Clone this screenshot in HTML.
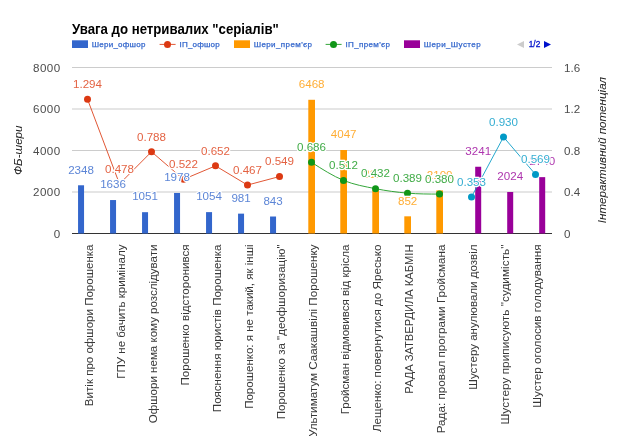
<!DOCTYPE html>
<html lang="uk"><head><meta charset="utf-8"><title>Увага до нетривалих "серіалів"</title>
<style>html,body{margin:0;padding:0;background:#fff}body{width:625px;height:436px;overflow:hidden}</style></head>
<body>
<svg width="625" height="436" viewBox="0 0 625 436" style="display:block;font-family:'Liberation Sans', Arial, sans-serif">
<rect width="625" height="436" fill="#fff"/>
<text x="72" y="33.5" font-size="13.8" font-weight="bold" fill="#000" textLength="206.8" lengthAdjust="spacingAndGlyphs">Увага до нетривалих "серіалів"</text>
<rect x="72.0" y="40.3" width="16" height="7.7" fill="#3366cc"/>
<text x="91.7" y="47.4" font-size="8" fill="#3366cc" stroke="#3366cc" stroke-width="0.25" textLength="53.7" lengthAdjust="spacing">Шери_офшор</text>
<path d="M159.6 44.4H175.6" stroke="#dc3912" stroke-width="1" stroke-opacity="0.85" fill="none"/>
<circle cx="167.5" cy="44.4" r="3.5" fill="#dc3912"/>
<text x="179.6" y="47.4" font-size="8" fill="#3366cc" stroke="#3366cc" stroke-width="0.25" textLength="40.0" lengthAdjust="spacing">ІП_офшор</text>
<rect x="234.0" y="40.3" width="16" height="7.7" fill="#ff9900"/>
<text x="253.7" y="47.4" font-size="8" fill="#3366cc" stroke="#3366cc" stroke-width="0.25" textLength="58.3" lengthAdjust="spacing">Шери_прем'єр</text>
<path d="M325.6 44.4H341.6" stroke="#109618" stroke-width="1" stroke-opacity="0.85" fill="none"/>
<circle cx="333.5" cy="44.4" r="3.5" fill="#109618"/>
<text x="345.4" y="47.4" font-size="8" fill="#3366cc" stroke="#3366cc" stroke-width="0.25" textLength="44.6" lengthAdjust="spacing">ІП_прем'єр</text>
<rect x="404.0" y="40.3" width="16" height="7.7" fill="#990099"/>
<text x="423.7" y="47.4" font-size="8" fill="#3366cc" stroke="#3366cc" stroke-width="0.25" textLength="56.9" lengthAdjust="spacing">Шери_Шустер</text>
<path d="M524 41L517 44.5L524 48Z" fill="#cccccc"/>
<text x="534.5" y="47.4" font-size="8.3" text-anchor="middle" fill="#0011cc" stroke="#0011cc" stroke-width="0.3">1/2</text>
<path d="M544 41L551 44.5L544 48Z" fill="#0011cc"/>
<rect x="72" y="67.0" width="480" height="1" fill="#cccccc"/>
<rect x="72" y="108.5" width="480" height="1" fill="#cccccc"/>
<rect x="72" y="150.0" width="480" height="1" fill="#cccccc"/>
<rect x="72" y="191.5" width="480" height="1" fill="#cccccc"/>
<rect x="72" y="233.0" width="480" height="1" fill="#cccccc"/>
<rect x="72" y="233.0" width="480" height="1" fill="#333333"/>
<rect x="78.05" y="185.28" width="6.00" height="48.22" fill="#3366cc"/>
<rect x="110.05" y="200.05" width="6.00" height="33.45" fill="#3366cc"/>
<rect x="142.05" y="212.19" width="6.00" height="21.31" fill="#3366cc"/>
<rect x="174.05" y="192.96" width="6.00" height="40.54" fill="#3366cc"/>
<rect x="206.05" y="212.13" width="6.00" height="21.37" fill="#3366cc"/>
<rect x="238.05" y="213.64" width="6.00" height="19.86" fill="#3366cc"/>
<rect x="270.05" y="216.51" width="6.00" height="16.99" fill="#3366cc"/>
<rect x="308.30" y="99.79" width="6.70" height="133.71" fill="#ff9900"/>
<rect x="340.30" y="150.02" width="6.70" height="83.48" fill="#ff9900"/>
<rect x="372.30" y="190.18" width="6.70" height="43.32" fill="#ff9900"/>
<rect x="404.30" y="216.32" width="6.70" height="17.18" fill="#ff9900"/>
<rect x="436.30" y="190.43" width="6.70" height="43.07" fill="#ff9900"/>
<rect x="475.20" y="166.75" width="6.00" height="66.75" fill="#990099"/>
<rect x="507.20" y="192.00" width="6.00" height="41.50" fill="#990099"/>
<rect x="539.20" y="177.14" width="6.00" height="56.36" fill="#990099"/>
<polyline points="87.50,99.25 119.50,183.91 151.50,151.75 183.50,179.34 215.50,165.86 247.50,185.05 279.50,176.54" fill="none" stroke="#dc3912" stroke-width="1" stroke-opacity="0.85"/>
<circle cx="87.50" cy="99.25" r="3.5" fill="#dc3912"/>
<circle cx="151.50" cy="151.75" r="3.5" fill="#dc3912"/>
<circle cx="183.50" cy="179.34" r="3.5" fill="#dc3912"/>
<circle cx="215.50" cy="165.86" r="3.5" fill="#dc3912"/>
<circle cx="247.50" cy="185.05" r="3.5" fill="#dc3912"/>
<circle cx="279.50" cy="176.54" r="3.5" fill="#dc3912"/>
<path d="M311.50 162.33C322.17 169.16 332.83 175.99 343.50 180.38C354.17 184.77 364.83 186.55 375.50 188.68C386.17 190.81 396.83 192.24 407.50 193.14C418.17 194.04 428.83 194.06 439.50 194.07" fill="none" stroke="#109618" stroke-width="1" stroke-opacity="0.85"/>
<circle cx="311.50" cy="162.33" r="3.5" fill="#109618"/>
<circle cx="343.50" cy="180.38" r="3.5" fill="#109618"/>
<circle cx="375.50" cy="188.68" r="3.5" fill="#109618"/>
<circle cx="407.50" cy="193.14" r="3.5" fill="#109618"/>
<circle cx="439.50" cy="194.07" r="3.5" fill="#109618"/>
<polyline points="471.50,196.88 503.50,137.01 535.50,174.47" fill="none" stroke="#0099c6" stroke-width="1" stroke-opacity="0.85"/>
<circle cx="471.50" cy="196.88" r="3.5" fill="#0099c6"/>
<circle cx="503.50" cy="137.01" r="3.5" fill="#0099c6"/>
<circle cx="535.50" cy="174.47" r="3.5" fill="#0099c6"/>
<text x="81.05" y="173.58" font-size="11.6" text-anchor="middle" fill="#fff" stroke="#fff" stroke-width="2.5" stroke-linejoin="round">2348</text>
<text x="81.05" y="173.58" font-size="11.6" text-anchor="middle" fill="#3366cc" fill-opacity="0.8">2348</text>
<text x="113.05" y="188.35" font-size="11.6" text-anchor="middle" fill="#fff" stroke="#fff" stroke-width="2.5" stroke-linejoin="round">1636</text>
<text x="113.05" y="188.35" font-size="11.6" text-anchor="middle" fill="#3366cc" fill-opacity="0.8">1636</text>
<text x="145.05" y="200.49" font-size="11.6" text-anchor="middle" fill="#fff" stroke="#fff" stroke-width="2.5" stroke-linejoin="round">1051</text>
<text x="145.05" y="200.49" font-size="11.6" text-anchor="middle" fill="#3366cc" fill-opacity="0.8">1051</text>
<text x="177.05" y="181.26" font-size="11.6" text-anchor="middle" fill="#fff" stroke="#fff" stroke-width="2.5" stroke-linejoin="round">1978</text>
<text x="177.05" y="181.26" font-size="11.6" text-anchor="middle" fill="#3366cc" fill-opacity="0.8">1978</text>
<text x="209.05" y="200.43" font-size="11.6" text-anchor="middle" fill="#fff" stroke="#fff" stroke-width="2.5" stroke-linejoin="round">1054</text>
<text x="209.05" y="200.43" font-size="11.6" text-anchor="middle" fill="#3366cc" fill-opacity="0.8">1054</text>
<text x="241.05" y="201.94" font-size="11.6" text-anchor="middle" fill="#fff" stroke="#fff" stroke-width="2.5" stroke-linejoin="round">981</text>
<text x="241.05" y="201.94" font-size="11.6" text-anchor="middle" fill="#3366cc" fill-opacity="0.8">981</text>
<text x="273.05" y="204.81" font-size="11.6" text-anchor="middle" fill="#fff" stroke="#fff" stroke-width="2.5" stroke-linejoin="round">843</text>
<text x="273.05" y="204.81" font-size="11.6" text-anchor="middle" fill="#3366cc" fill-opacity="0.8">843</text>
<text x="87.50" y="88.05" font-size="11.6" text-anchor="middle" fill="#fff" stroke="#fff" stroke-width="2.5" stroke-linejoin="round">1.294</text>
<text x="87.50" y="88.05" font-size="11.6" text-anchor="middle" fill="#dc3912" fill-opacity="0.8">1.294</text>
<text x="119.50" y="172.71" font-size="11.6" text-anchor="middle" fill="#fff" stroke="#fff" stroke-width="2.5" stroke-linejoin="round">0.478</text>
<text x="119.50" y="172.71" font-size="11.6" text-anchor="middle" fill="#dc3912" fill-opacity="0.8">0.478</text>
<text x="151.50" y="140.55" font-size="11.6" text-anchor="middle" fill="#fff" stroke="#fff" stroke-width="2.5" stroke-linejoin="round">0.788</text>
<text x="151.50" y="140.55" font-size="11.6" text-anchor="middle" fill="#dc3912" fill-opacity="0.8">0.788</text>
<text x="183.50" y="168.14" font-size="11.6" text-anchor="middle" fill="#fff" stroke="#fff" stroke-width="2.5" stroke-linejoin="round">0.522</text>
<text x="183.50" y="168.14" font-size="11.6" text-anchor="middle" fill="#dc3912" fill-opacity="0.8">0.522</text>
<text x="215.50" y="154.66" font-size="11.6" text-anchor="middle" fill="#fff" stroke="#fff" stroke-width="2.5" stroke-linejoin="round">0.652</text>
<text x="215.50" y="154.66" font-size="11.6" text-anchor="middle" fill="#dc3912" fill-opacity="0.8">0.652</text>
<text x="247.50" y="173.85" font-size="11.6" text-anchor="middle" fill="#fff" stroke="#fff" stroke-width="2.5" stroke-linejoin="round">0.467</text>
<text x="247.50" y="173.85" font-size="11.6" text-anchor="middle" fill="#dc3912" fill-opacity="0.8">0.467</text>
<text x="279.50" y="165.34" font-size="11.6" text-anchor="middle" fill="#fff" stroke="#fff" stroke-width="2.5" stroke-linejoin="round">0.549</text>
<text x="279.50" y="165.34" font-size="11.6" text-anchor="middle" fill="#dc3912" fill-opacity="0.8">0.549</text>
<text x="311.65" y="88.09" font-size="11.6" text-anchor="middle" fill="#fff" stroke="#fff" stroke-width="2.5" stroke-linejoin="round">6468</text>
<text x="311.65" y="88.09" font-size="11.6" text-anchor="middle" fill="#ff9900" fill-opacity="0.8">6468</text>
<text x="343.65" y="138.32" font-size="11.6" text-anchor="middle" fill="#fff" stroke="#fff" stroke-width="2.5" stroke-linejoin="round">4047</text>
<text x="343.65" y="138.32" font-size="11.6" text-anchor="middle" fill="#ff9900" fill-opacity="0.8">4047</text>
<text x="375.65" y="178.48" font-size="11.6" text-anchor="middle" fill="#fff" stroke="#fff" stroke-width="2.5" stroke-linejoin="round">2112</text>
<text x="375.65" y="178.48" font-size="11.6" text-anchor="middle" fill="#ff9900" fill-opacity="0.8">2112</text>
<text x="407.65" y="204.62" font-size="11.6" text-anchor="middle" fill="#fff" stroke="#fff" stroke-width="2.5" stroke-linejoin="round">852</text>
<text x="407.65" y="204.62" font-size="11.6" text-anchor="middle" fill="#ff9900" fill-opacity="0.8">852</text>
<text x="439.65" y="178.73" font-size="11.6" text-anchor="middle" fill="#fff" stroke="#fff" stroke-width="2.5" stroke-linejoin="round">2100</text>
<text x="439.65" y="178.73" font-size="11.6" text-anchor="middle" fill="#ff9900" fill-opacity="0.8">2100</text>
<text x="311.50" y="151.13" font-size="11.6" text-anchor="middle" fill="#fff" stroke="#fff" stroke-width="2.5" stroke-linejoin="round">0.686</text>
<text x="311.50" y="151.13" font-size="11.6" text-anchor="middle" fill="#109618" fill-opacity="0.8">0.686</text>
<text x="343.50" y="169.18" font-size="11.6" text-anchor="middle" fill="#fff" stroke="#fff" stroke-width="2.5" stroke-linejoin="round">0.512</text>
<text x="343.50" y="169.18" font-size="11.6" text-anchor="middle" fill="#109618" fill-opacity="0.8">0.512</text>
<text x="375.50" y="177.48" font-size="11.6" text-anchor="middle" fill="#fff" stroke="#fff" stroke-width="2.5" stroke-linejoin="round">0.432</text>
<text x="375.50" y="177.48" font-size="11.6" text-anchor="middle" fill="#109618" fill-opacity="0.8">0.432</text>
<text x="407.50" y="181.94" font-size="11.6" text-anchor="middle" fill="#fff" stroke="#fff" stroke-width="2.5" stroke-linejoin="round">0.389</text>
<text x="407.50" y="181.94" font-size="11.6" text-anchor="middle" fill="#109618" fill-opacity="0.8">0.389</text>
<text x="439.50" y="182.88" font-size="11.6" text-anchor="middle" fill="#fff" stroke="#fff" stroke-width="2.5" stroke-linejoin="round">0.380</text>
<text x="439.50" y="182.88" font-size="11.6" text-anchor="middle" fill="#109618" fill-opacity="0.8">0.380</text>
<text x="478.20" y="155.05" font-size="11.6" text-anchor="middle" fill="#fff" stroke="#fff" stroke-width="2.5" stroke-linejoin="round">3241</text>
<text x="478.20" y="155.05" font-size="11.6" text-anchor="middle" fill="#990099" fill-opacity="0.8">3241</text>
<text x="510.20" y="180.30" font-size="11.6" text-anchor="middle" fill="#fff" stroke="#fff" stroke-width="2.5" stroke-linejoin="round">2024</text>
<text x="510.20" y="180.30" font-size="11.6" text-anchor="middle" fill="#990099" fill-opacity="0.8">2024</text>
<text x="542.20" y="165.44" font-size="11.6" text-anchor="middle" fill="#fff" stroke="#fff" stroke-width="2.5" stroke-linejoin="round">2740</text>
<text x="542.20" y="165.44" font-size="11.6" text-anchor="middle" fill="#990099" fill-opacity="0.8">2740</text>
<text x="471.50" y="185.68" font-size="11.6" text-anchor="middle" fill="#fff" stroke="#fff" stroke-width="2.5" stroke-linejoin="round">0.353</text>
<text x="471.50" y="185.68" font-size="11.6" text-anchor="middle" fill="#0099c6" fill-opacity="0.8">0.353</text>
<text x="503.50" y="125.81" font-size="11.6" text-anchor="middle" fill="#fff" stroke="#fff" stroke-width="2.5" stroke-linejoin="round">0.930</text>
<text x="503.50" y="125.81" font-size="11.6" text-anchor="middle" fill="#0099c6" fill-opacity="0.8">0.930</text>
<text x="535.50" y="163.27" font-size="11.6" text-anchor="middle" fill="#fff" stroke="#fff" stroke-width="2.5" stroke-linejoin="round">0.569</text>
<text x="535.50" y="163.27" font-size="11.6" text-anchor="middle" fill="#0099c6" fill-opacity="0.8">0.569</text>
<text x="60.6" y="71.6" font-size="11.6" letter-spacing="0.45" text-anchor="end" fill="#4c4c4c">8000</text>
<text x="564" y="71.6" font-size="11.6" fill="#4c4c4c">1.6</text>
<text x="60.6" y="113.1" font-size="11.6" letter-spacing="0.45" text-anchor="end" fill="#4c4c4c">6000</text>
<text x="564" y="113.1" font-size="11.6" fill="#4c4c4c">1.2</text>
<text x="60.6" y="154.6" font-size="11.6" letter-spacing="0.45" text-anchor="end" fill="#4c4c4c">4000</text>
<text x="564" y="154.6" font-size="11.6" fill="#4c4c4c">0.8</text>
<text x="60.6" y="196.1" font-size="11.6" letter-spacing="0.45" text-anchor="end" fill="#4c4c4c">2000</text>
<text x="564" y="196.1" font-size="11.6" fill="#4c4c4c">0.4</text>
<text x="60.6" y="237.6" font-size="11.6" letter-spacing="0.45" text-anchor="end" fill="#4c4c4c">0</text>
<text x="564" y="237.6" font-size="11.6" fill="#4c4c4c">0</text>
<text transform="translate(21.6,150.3) rotate(-90)" font-size="11.6" font-style="italic" text-anchor="middle" fill="#222222">ФБ-шери</text>
<text transform="translate(606.4,150.1) rotate(-90)" font-size="11.6" font-style="italic" text-anchor="middle" fill="#222222">Інтерактивний потенціал</text>
<text transform="translate(92.8,244.5) rotate(-90)" font-size="11.55" text-anchor="end" fill="#222222" fill-opacity="0.9">Витік про офшори Порошенка</text>
<text transform="translate(124.8,244.5) rotate(-90)" font-size="11.55" text-anchor="end" fill="#222222" fill-opacity="0.9">ГПУ не бачить криміналу</text>
<text transform="translate(156.8,244.5) rotate(-90)" font-size="11.55" text-anchor="end" fill="#222222" fill-opacity="0.9">Офшори нема кому розслідувати</text>
<text transform="translate(188.8,244.5) rotate(-90)" font-size="11.55" text-anchor="end" fill="#222222" fill-opacity="0.9">Порошенко відсторонився</text>
<text transform="translate(220.8,244.5) rotate(-90)" font-size="11.55" text-anchor="end" fill="#222222" fill-opacity="0.9">Пояснення юристів Порошенка</text>
<text transform="translate(252.8,244.5) rotate(-90)" font-size="11.55" text-anchor="end" fill="#222222" fill-opacity="0.9">Порошенко: я не такий, як інші</text>
<text transform="translate(284.8,244.5) rotate(-90)" font-size="11.55" text-anchor="end" fill="#222222" fill-opacity="0.9">Порошенко за &quot;деофшоризацію&quot;</text>
<text transform="translate(316.8,244.5) rotate(-90)" font-size="11.55" text-anchor="end" fill="#222222" fill-opacity="0.9" textLength="192.3" lengthAdjust="spacingAndGlyphs">Ультиматум Саакашвілі Порошенку</text>
<text transform="translate(348.8,244.5) rotate(-90)" font-size="11.55" text-anchor="end" fill="#222222" fill-opacity="0.9">Гройсман відмовився від крісла</text>
<text transform="translate(380.8,244.5) rotate(-90)" font-size="11.55" text-anchor="end" fill="#222222" fill-opacity="0.9" textLength="187.6" lengthAdjust="spacingAndGlyphs">Лещенко: повернутися до Яресько</text>
<text transform="translate(412.8,244.5) rotate(-90)" font-size="11.55" text-anchor="end" fill="#222222" fill-opacity="0.9" textLength="149.3" lengthAdjust="spacingAndGlyphs">РАДА ЗАТВЕРДИЛА КАБМІН</text>
<text transform="translate(444.8,244.5) rotate(-90)" font-size="11.55" text-anchor="end" fill="#222222" fill-opacity="0.9" textLength="188.8" lengthAdjust="spacingAndGlyphs">Рада: провал програми Гройсмана</text>
<text transform="translate(476.8,244.5) rotate(-90)" font-size="11.55" text-anchor="end" fill="#222222" fill-opacity="0.9">Шустеру анулювали дозвіл</text>
<text transform="translate(508.8,244.5) rotate(-90)" font-size="11.55" text-anchor="end" fill="#222222" fill-opacity="0.9" textLength="180.0" lengthAdjust="spacingAndGlyphs">Шустеру приписують &quot;судимість&quot;</text>
<text transform="translate(540.8,244.5) rotate(-90)" font-size="11.55" text-anchor="end" fill="#222222" fill-opacity="0.9" textLength="163.2" lengthAdjust="spacingAndGlyphs">Шустер оголосив голодування</text>
</svg>
</body></html>
